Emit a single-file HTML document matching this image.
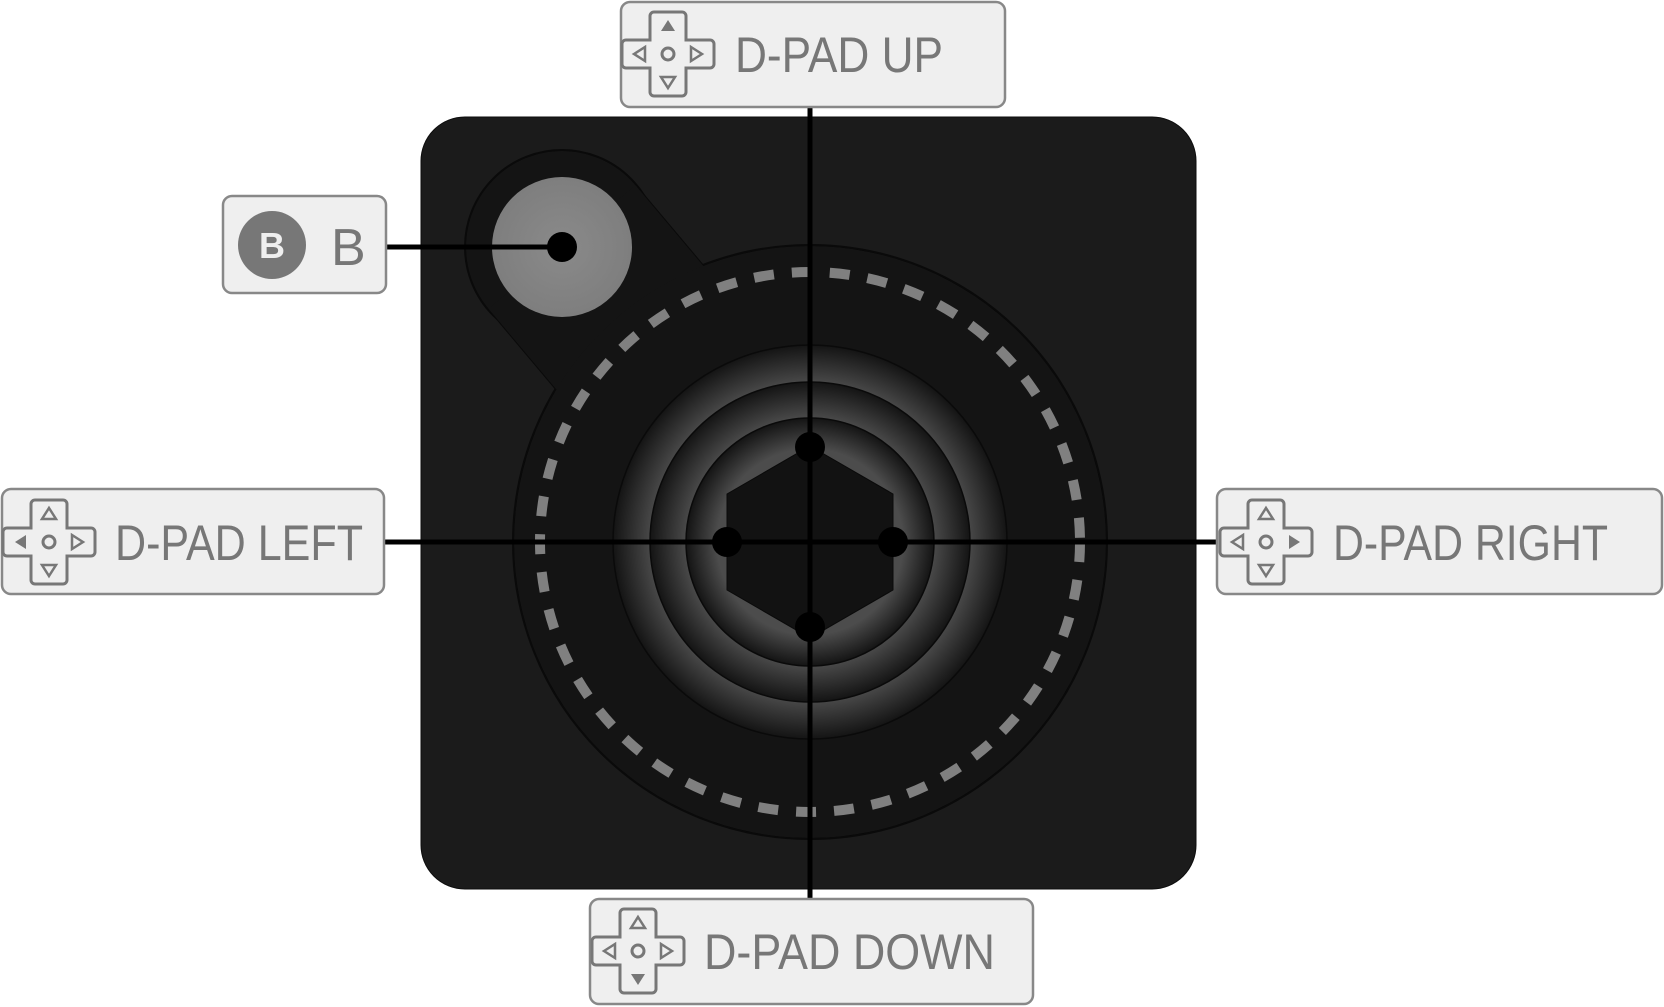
<!DOCTYPE html>
<html><head><meta charset="utf-8"><style>html,body{margin:0;padding:0;background:#fff}svg{display:block}</style></head><body>
<svg width="1664" height="1007" viewBox="0 0 1664 1007" xmlns="http://www.w3.org/2000/svg" font-family="Liberation Sans, sans-serif">
<defs>
<radialGradient id="g1" gradientUnits="userSpaceOnUse" cx="810" cy="542" r="197"><stop offset="0.81" stop-color="#484848"/><stop offset="1" stop-color="#141414"/></radialGradient>
<radialGradient id="g2" gradientUnits="userSpaceOnUse" cx="810" cy="542" r="160"><stop offset="0.77" stop-color="#4a4a4a"/><stop offset="1" stop-color="#141414"/></radialGradient>
<radialGradient id="g3" gradientUnits="userSpaceOnUse" cx="810" cy="542" r="124"><stop offset="0.75" stop-color="#4c4c4c"/><stop offset="1" stop-color="#141414"/></radialGradient>
<radialGradient id="gb" cx="0.5" cy="0.5" r="0.5"><stop offset="0" stop-color="#8a8a8a"/><stop offset="1" stop-color="#7e7e7e"/></radialGradient>
<g id="pad">
<path d="M-14,-42 h28 a4,4 0 0 1 4,4 v24 h24 a4,4 0 0 1 4,4 v20 a4,4 0 0 1 -4,4 h-24 v24 a4,4 0 0 1 -4,4 h-28 a4,4 0 0 1 -4,-4 v-24 h-24 a4,4 0 0 1 -4,-4 v-20 a4,4 0 0 1 4,-4 h24 v-24 a4,4 0 0 1 4,-4z" fill="none" stroke="#777" stroke-width="3"/>
<circle r="6" fill="none" stroke="#777" stroke-width="3"/>
</g>
</defs>
<!-- card -->
<rect x="421" y="117" width="775" height="772" rx="44" fill="#1b1b1b" stroke="#0d0d0d" stroke-width="1"/>
<!-- bump outlines -->
<g stroke="#0a0a0a" stroke-width="2">
<circle cx="562" cy="247" r="97"/>
<path d="M562,247 L810,542" stroke-width="194"/>
<circle cx="810" cy="542" r="297"/>
</g>
<g fill="#141414">
<circle cx="562" cy="247" r="96"/>
<path d="M562,247 L810,542" stroke="#141414" stroke-width="192"/>
<circle cx="810" cy="542" r="296"/>
</g>
<circle cx="810" cy="542" r="270" fill="none" stroke="#808080" stroke-width="10" stroke-dasharray="20 18"/>
<circle cx="810" cy="542" r="197" fill="url(#g1)" stroke="#0a0a0a" stroke-width="1.5"/>
<circle cx="810" cy="542" r="160" fill="url(#g2)" stroke="#0a0a0a" stroke-width="1.5"/>
<circle cx="810" cy="542" r="124" fill="url(#g3)" stroke="#0a0a0a" stroke-width="1.5"/>
<polygon points="810,446 893,494 893,590 810,638 727,590 727,494" fill="#121212" stroke="#0a0a0a" stroke-width="1"/>
<circle cx="562" cy="247" r="70" fill="url(#gb)"/>
<!-- connectors -->
<g stroke="#000" stroke-width="5">
<line x1="810" y1="107" x2="810" y2="899"/>
<line x1="384" y1="542" x2="1217" y2="542"/>
<line x1="386" y1="247" x2="562" y2="247"/>
</g>
<g fill="#000">
<circle cx="562" cy="247" r="15"/>
<circle cx="810" cy="447" r="15"/>
<circle cx="810" cy="627" r="15"/>
<circle cx="727" cy="542" r="15"/>
<circle cx="893" cy="542" r="15"/>
</g>
<!-- boxes -->
<g fill="#efefef" stroke="#888" stroke-width="2.5">
<rect x="621" y="2" width="384" height="105" rx="9"/>
<rect x="2" y="489" width="382" height="105" rx="9"/>
<rect x="1217" y="489" width="445" height="105" rx="9"/>
<rect x="590" y="899" width="443" height="105" rx="9"/>
<rect x="223" y="196" width="163" height="97" rx="9"/>
</g>
<g fill="#777" font-size="50">
<text x="735" y="72" textLength="208" lengthAdjust="spacingAndGlyphs">D-PAD UP</text>
<text x="115" y="560" textLength="248" lengthAdjust="spacingAndGlyphs">D-PAD LEFT</text>
<text x="1333" y="560" textLength="275" lengthAdjust="spacingAndGlyphs">D-PAD RIGHT</text>
<text x="704" y="969" textLength="291" lengthAdjust="spacingAndGlyphs">D-PAD DOWN</text>
<text x="331" y="265" font-size="52">B</text>
</g>
<circle cx="272" cy="245" r="34" fill="#777"/>
<text x="272" y="258" font-size="36" font-weight="bold" fill="#efefef" text-anchor="middle">B</text>
<!-- pad icons -->
<g transform="translate(668,54)"><use href="#pad"/>
<path d="M0,-34 l7,11 h-14z" fill="#777"/><path d="M0,34 l7,-11 h-14z" fill="none" stroke="#777" stroke-width="2.5"/><path d="M-34,0 l11,-7 v14z" fill="none" stroke="#777" stroke-width="2.5"/><path d="M34,0 l-11,-7 v14z" fill="none" stroke="#777" stroke-width="2.5"/></g>
<g transform="translate(49,542)"><use href="#pad"/>
<path d="M0,-34 l7,11 h-14z" fill="none" stroke="#777" stroke-width="2.5"/><path d="M0,34 l7,-11 h-14z" fill="none" stroke="#777" stroke-width="2.5"/><path d="M-34,0 l11,-7 v14z" fill="#777"/><path d="M34,0 l-11,-7 v14z" fill="none" stroke="#777" stroke-width="2.5"/></g>
<g transform="translate(1266,542)"><use href="#pad"/>
<path d="M0,-34 l7,11 h-14z" fill="none" stroke="#777" stroke-width="2.5"/><path d="M0,34 l7,-11 h-14z" fill="none" stroke="#777" stroke-width="2.5"/><path d="M-34,0 l11,-7 v14z" fill="none" stroke="#777" stroke-width="2.5"/><path d="M34,0 l-11,-7 v14z" fill="#777"/></g>
<g transform="translate(638,951)"><use href="#pad"/>
<path d="M0,-34 l7,11 h-14z" fill="none" stroke="#777" stroke-width="2.5"/><path d="M0,34 l7,-11 h-14z" fill="#777"/><path d="M-34,0 l11,-7 v14z" fill="none" stroke="#777" stroke-width="2.5"/><path d="M34,0 l-11,-7 v14z" fill="none" stroke="#777" stroke-width="2.5"/></g>
</svg>
</body></html>
